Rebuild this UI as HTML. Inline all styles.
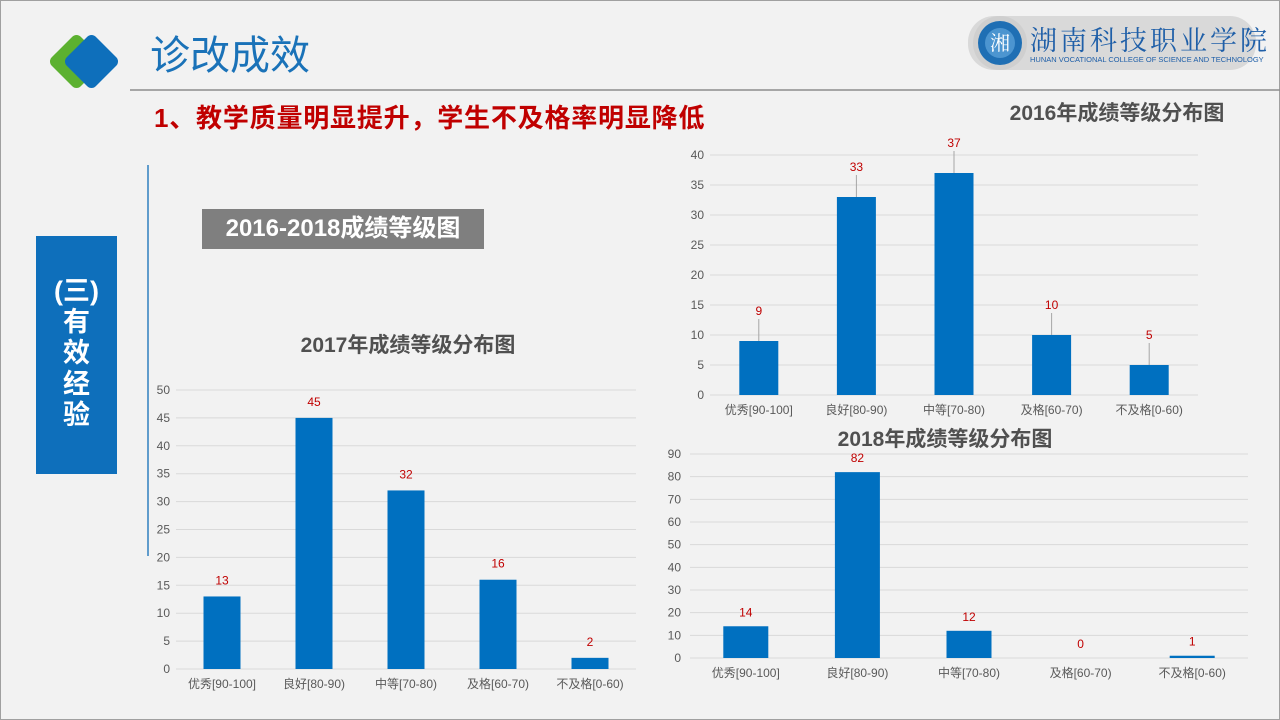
<!DOCTYPE html>
<html><head><meta charset="utf-8">
<style>
html,body{margin:0;padding:0;}
body{width:1280px;height:720px;background:#f2f2f2;position:relative;overflow:hidden;font-family:"Liberation Sans","Noto Sans CJK SC",sans-serif;}
.abs{position:absolute;}
</style></head>
<body>
<div class="abs" style="left:0;top:0;width:1278px;height:718px;border:1px solid #a0a0a0;"></div>
<svg class="abs" style="left:0;top:0" width="1280" height="720">
  <rect x="56" y="41" width="41" height="41" rx="6" fill="#5cb130" transform="rotate(45 76.5 61.5)"/>
  <rect x="71" y="41" width="41" height="41" rx="6" fill="#0e6fbb" transform="rotate(45 91.5 61.5)"/>
  <line x1="130" y1="90" x2="1280" y2="90" stroke="#8c8c8c" stroke-width="1.5"/>
  <line x1="148" y1="165" x2="148" y2="556" stroke="#2f7fc0" stroke-width="1.5"/>
  <g>
    <rect x="968" y="16" width="288" height="54" rx="26" fill="#d9d9d9"/>
    <circle cx="1000" cy="43" r="27" fill="#cfcfcf"/>
    <circle cx="1000" cy="43" r="22" fill="#1f6fb4"/>
    <circle cx="1000" cy="43" r="15" fill="#4c95d0"/>
    <text x="1000" y="50" font-size="20" fill="#fff" text-anchor="middle" font-family="Noto Serif CJK SC,serif">湘</text>
    <text x="1030" y="50" font-size="27" fill="#1f5fa8" font-family="Noto Serif CJK SC,serif" letter-spacing="3">湖南科技职业学院</text>
    <text x="1030" y="62" font-size="7.5" fill="#1f5fa8">HUNAN VOCATIONAL COLLEGE OF SCIENCE AND TECHNOLOGY</text>
  </g>
</svg>
<div class="abs" style="left:150px;top:30px;font-size:40px;color:#1a72b8;line-height:52px;">诊改成效</div>
<div class="abs" style="left:154px;top:101px;font-size:26px;letter-spacing:0.8px;font-weight:bold;color:#c00000;line-height:34px;">1、教学质量明显提升，学生不及格率明显降低</div>
<div class="abs" style="left:202px;top:209px;width:282px;height:40px;background:#7f7f7f;color:#fff;font-size:24px;font-weight:bold;line-height:40px;text-align:center;">2016-2018成绩等级图</div>
<div class="abs" style="left:36px;top:236px;width:81px;height:238px;background:#0e6fbb;color:#fff;font-size:27px;font-weight:bold;text-align:center;line-height:31px;padding-top:40px;box-sizing:border-box;">(三)<br>有<br>效<br>经<br>验</div>

<svg id="charts" class="abs" style="left:0;top:0" width="1280" height="720"></svg>
<script>
const categories = ["优秀[90-100]","良好[80-90)","中等[70-80)","及格[60-70)","不及格[0-60)"];
const values2016 = [9,33,37,10,5];
const values2017 = [13,45,32,16,2];
const values2018 = [14,82,12,0,1];
const ticks2016 = [0,5,10,15,20,25,30,35,40];
const ticks2017 = [0,5,10,15,20,25,30,35,40,45,50];
const ticks2018 = [0,10,20,30,40,50,60,70,80,90];
const NS = "http://www.w3.org/2000/svg";
const svg = document.getElementById("charts");
function mk(tag, attrs, parent){const e=document.createElementNS(NS,tag);for(const k in attrs)e.setAttribute(k,attrs[k]);(parent||svg).appendChild(e);return e;}
function chart(cfg, vals, ticks, key){
  const g = mk("g",{});
  
  
  const max = ticks[ticks.length-1];
  const y = v => cfg.y0 - (cfg.y0-cfg.y1)*v/max;
  const band = (cfg.x1-cfg.x0)/categories.length;
  const x = i => cfg.x0 + band*(i+0.5);
  const t = mk("text",{x:cfg.tx,y:cfg.ty,"text-anchor":"middle","font-size":21,"font-weight":"bold",fill:"#505050"},g);
  t.textContent = key+"年成绩等级分布图";
  
  
  ticks.forEach(v=>{
    const l = mk("line",{x1:cfg.x0,x2:cfg.x1,y1:y(v),y2:y(v),stroke:"#d9d9d9","stroke-width":1},g);
    
    
    const tl = mk("text",{x:cfg.lx,y:y(v)+4,"text-anchor":"end","font-size":12,fill:"#595959"},g);
    tl.textContent = v;
    
    
  });
  vals.forEach((v,i)=>{
    const b = mk("rect",{x:x(i)-cfg.bw/2,y:y(v),width:cfg.bw,height:y(0)-y(v),fill:"#0070c0"},g);
    
    
    const ly = y(v)-cfg.off;
    if(cfg.off>16){
      const ll = mk("line",{x1:x(i),x2:x(i),y1:ly+4,y2:y(v),stroke:"#a6a6a6","stroke-width":1},g);
      
      
    }
    const vl = mk("text",{x:x(i),y:ly,"text-anchor":"middle","font-size":12,fill:"#c00000"},g);
    vl.textContent = v;
    
    
    const cl = mk("text",{x:x(i),y:cfg.y0+19,"text-anchor":"middle","font-size":12,fill:"#595959"},g);
    cl.textContent = categories[i];
    
    
  });
}
chart({x0:710,x1:1198,y0:395,y1:155,bw:39,off:26,lx:704,tx:1117,ty:120},values2016,ticks2016,"2016");
chart({x0:176,x1:636,y0:669,y1:390,bw:37,off:12,lx:170,tx:408,ty:352},values2017,ticks2017,"2017");
chart({x0:690,x1:1248,y0:658,y1:454,bw:45,off:10,lx:681,tx:945,ty:446},values2018,ticks2018,"2018");
</script>
</body></html>
